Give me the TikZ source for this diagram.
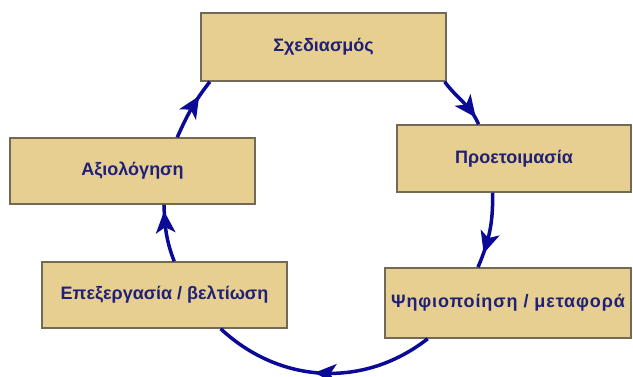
\documentclass[tikz,border=0pt]{standalone}
\usepackage{fontspec}
\setmainfont{Liberation Sans}
\usetikzlibrary{decorations.markings}
\definecolor{boxfill}{RGB}{230,207,145}
\definecolor{boxline}{RGB}{115,105,85}
\definecolor{navy}{RGB}{10,10,150}
\definecolor{txt}{RGB}{32,32,120}
\tikzset{
  stage/.style={draw=boxline, line width=1.5pt, fill=boxfill, inner sep=0pt,
    font=\fontsize{18}{20}\selectfont\bfseries, text=txt},
  conn/.style={draw=navy, line width=3.5pt, postaction={decorate},
    decoration={markings, mark=at position #1 with {\fill[navy] (8pt,0pt) -- (-14pt,10pt) -- (-8pt,0pt) -- (-14pt,-10pt) -- cycle;}}},
}
\begin{document}
\begin{tikzpicture}[x=1pt,y=1pt]
\useasboundingbox (0,0) rectangle (633,376);
\fill[white] (0,0) rectangle (633,376);
\node[stage, minimum width=245pt, minimum height=68pt] (top) at (323.5,329) {Σχεδιασμός};
\node[stage, minimum width=234pt, minimum height=67pt] (prep) at (514,217.5) {Προετοιμασία};
\node[stage, minimum width=245pt, minimum height=66pt] (eval) at (132.5,205) {Αξιολόγηση};
\node[stage, minimum width=245pt, minimum height=66pt] (epex) at (164.5,81) {Επεξεργασία / βελτίωση};
\node[stage, minimum width=246pt, minimum height=70pt] (psi) at (508,73) {\addfontfeature{LetterSpace=5}Ψηφιοποίηση / μεταφορά};
\draw[conn=0.72] (top.-16) to[out=-54, in=113] (prep.136);
\draw[conn=0.7] (prep.-122) to[out=-89, in=67] (psi.130);
\draw[conn=0.5] (psi.-156) to[out=-142, in=-43] (epex.-31);
\draw[conn=0.75] (epex.74) to[out=111, in=-88] (eval.-47);
\draw[conn=0.6] (eval.37) to[out=66, in=232] (top.-163);
\end{tikzpicture}
\end{document}
